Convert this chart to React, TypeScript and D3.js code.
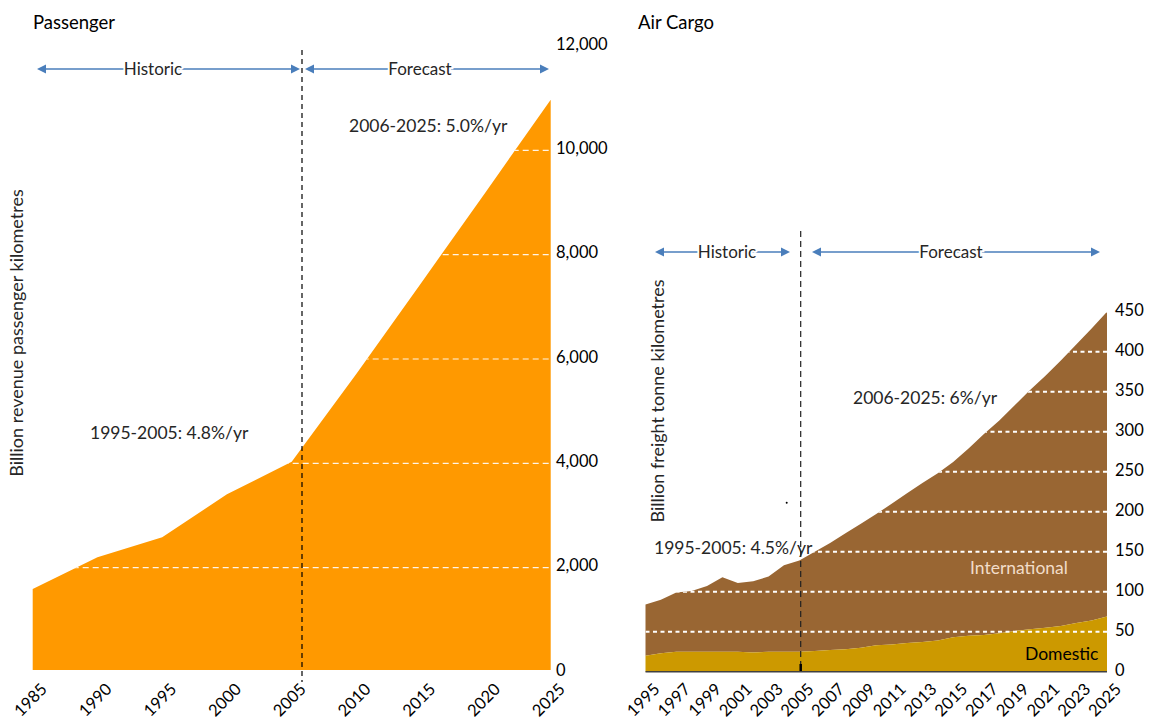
import React from "react";
import * as d3 from "d3";

// ---------- Passenger data ----------
const paxYears = [1985, 1990, 1995, 2000, 2005, 2010, 2015, 2020, 2025];
const paxValues = [1553, 2160, 2544, 3368, 3993, 5680, 7420, 9170, 10930];
const paxTicksY = [0, 2000, 4000, 6000, 8000, 10000, 12000];
const paxTicksX = [1985, 1990, 1995, 2000, 2005, 2010, 2015, 2020, 2025];

// ---------- Cargo data ----------
const cargoYears = [
  1995, 1996, 1997, 1998, 1999, 2000, 2001, 2002, 2003, 2004, 2005, 2006, 2007, 2008, 2009, 2010,
  2011, 2012, 2013, 2014, 2015, 2016, 2017, 2018, 2019, 2020, 2021, 2022, 2023, 2024, 2025,
];
const cargoDomestic = [
  20, 23, 25, 25, 25, 25, 25, 24, 25, 25, 25, 26, 27, 28, 30, 33,
  34, 36, 37, 39, 43, 45, 46, 48, 51, 53, 55, 57, 61, 64, 69,
];
const cargoInternational = [
  64, 67, 74, 76, 82, 93, 86, 89, 94, 108, 114, 124, 134, 145, 155, 164,
  176, 187, 199, 209, 219, 234, 251, 266, 282, 299, 315, 332, 348, 365, 381,
];
const cargoTicksY = [0, 50, 100, 150, 200, 250, 300, 350, 400, 450];
const cargoTicksX = [1995, 1997, 1999, 2001, 2003, 2005, 2007, 2009, 2011, 2013, 2015, 2017, 2019, 2021, 2023, 2025];

const FONT = "Lato, 'Open Sans', sans-serif";
const TXT = "#262626";
const BLUE = "#4A7EBB";

function Arrow({ x1, x2, y, label, lx }: { x1: number; x2: number; y: number; label: string; lx: number }) {
  return (
    <g>
      <line x1={x1 + 6} x2={x2 - 6} y1={y} y2={y} stroke={BLUE} strokeWidth={1.3} />
      <path d={`M${x1},${y} L${x1 + 9},${y - 4.5} L${x1 + 9},${y + 4.5} Z`} fill={BLUE} />
      <path d={`M${x2},${y} L${x2 - 9},${y - 4.5} L${x2 - 9},${y + 4.5} Z`} fill={BLUE} />
      <text x={lx} y={y} dy="0.35em" textAnchor="middle" fontSize={17} fill={TXT} fontFamily={FONT}
        style={{ paintOrder: "stroke" }} stroke="#fff" strokeWidth={4}>
        {label}
      </text>
    </g>
  );
}

export default function App() {
  // Passenger scales
  const px = d3.scaleLinear().domain([1985, 2025]).range([32.7, 550.7]);
  const py = d3.scaleLinear().domain([0, 12000]).range([670, 44]);
  const paxData = paxYears.map((y, i) => ({ year: y, v: paxValues[i] }));
  const paxArea = d3
    .area<{ year: number; v: number }>()
    .x((d) => px(d.year))
    .y0(py(0))
    .y1((d) => py(d.v))(paxData) as string;

  // Cargo scales
  const cx = d3.scaleLinear().domain([1995, 2025]).range([645.5, 1107]);
  const cy = d3.scaleLinear().domain([0, 450]).range([671.7, 311.7]);
  const table = cargoYears.map((y, i) => ({ year: y, domestic: cargoDomestic[i], international: cargoInternational[i] }));
  const stack = d3.stack<any>().keys(["domestic", "international"])(table);
  const areaGen = d3
    .area<any>()
    .x((d) => cx(d.data.year))
    .y0((d) => cy(d[0]))
    .y1((d) => cy(d[1]));
  const domPath = areaGen(stack[0]) as string;
  const intPath = areaGen(stack[1]) as string;
  const totalPath = d3
    .area<any>()
    .x((d) => cx(d.data.year))
    .y0(cy(0))
    .y1((d) => cy(d[1]))(stack[1]) as string;

  return (
    <svg width={1149} height={720} style={{ position: "absolute", left: 0, top: 0, background: "#fff" }} fontFamily={FONT}>
      <defs>
        <clipPath id="paxClip">
          <path d={paxArea} />
        </clipPath>
        <clipPath id="cargoClip">
          <path d={totalPath} />
        </clipPath>
      </defs>

      {/* ---------- Passenger ---------- */}
      <text x={33} y={29} fontSize={18.5} fill="#000">Passenger</text>
      <path d={paxArea} fill="#FF9900" />
      <g clipPath="url(#paxClip)">
        {paxTicksY.filter((t) => t > 0).map((t) => (
          <line key={t} x1={px(1985)} x2={px(2025)} y1={py(t) + 2} y2={py(t) + 2} stroke="#fff" strokeWidth={1.2} strokeDasharray="6,4" opacity={0.9} />
        ))}
      </g>
      {paxTicksY.map((t) => (
        <text key={t} x={556} y={py(t)} dy="0.35em" fontSize={16.5} fill="#000">
          {d3.format(",")(t)}
        </text>
      ))}
      {paxTicksX.map((t) => (
        <text key={t} transform={`translate(${px(t) + 6},${681}) rotate(-45)`} textAnchor="end" dy="0.8em" fontSize={16.5} fill="#000">
          {t}
        </text>
      ))}
      <line x1={302} x2={302} y1={50} y2={682} stroke="#000" strokeWidth={1.2} strokeDasharray="5,4" />
      <text transform="translate(23,333) rotate(-90)" textAnchor="middle" fontSize={18} fill={TXT}>
        Billion revenue passenger kilometres
      </text>
      <Arrow x1={37} x2={300} y={69} label="Historic" lx={153} />
      <Arrow x1={305} x2={549} y={69} label="Forecast" lx={420} />
      <text x={349} y={126} dy="0.35em" fontSize={17.5} fill={TXT}>2006-2025: 5.0%/yr</text>
      <text x={90} y={433} dy="0.35em" fontSize={17.5} fill={TXT}>1995-2005: 4.8%/yr</text>

      {/* ---------- Air Cargo ---------- */}
      <text x={638} y={29} fontSize={18.5} fill="#000">Air Cargo</text>
      <path d={intPath} fill="#996633" />
      <path d={domPath} fill="#CC9900" />
      <g clipPath="url(#cargoClip)">
        {cargoTicksY.filter((t) => t > 0).map((t) => (
          <line key={t} x1={cx(1995)} x2={cx(2025)} y1={cy(t)} y2={cy(t)} stroke="#fff" strokeWidth={2} strokeDasharray="4,3.5" />
        ))}
      </g>
      <line x1={cx(1995)} x2={cx(2025)} y1={cy(0)} y2={cy(0)} stroke="#404040" strokeWidth={1.5} />
      {cargoTicksY.map((t) => (
        <text key={t} x={1115} y={cy(t) - 1} dy="0.35em" fontSize={16.5} fill="#000">
          {t}
        </text>
      ))}
      {cargoTicksX.map((t) => (
        <text key={t} transform={`translate(${cx(t) + 6},${681}) rotate(-45)`} textAnchor="end" dy="0.8em" fontSize={16.5} fill="#000">
          {t}
        </text>
      ))}
      <line x1={800.7} x2={800.7} y1={231} y2={671} stroke="#222" strokeWidth={1.2} strokeDasharray="6,4" />
      <line x1={800.7} x2={800.7} y1={664} y2={671} stroke="#000" strokeWidth={2.5} />
      <circle cx={786.7} cy={502.7} r={1} fill="#000" />
      <text transform="translate(664,401) rotate(-90)" textAnchor="middle" fontSize={18} fill={TXT}>
        Billion freight tonne kilometres
      </text>
      <Arrow x1={655} x2={790} y={252} label="Historic" lx={727} />
      <Arrow x1={812} x2={1100} y={252} label="Forecast" lx={951} />
      <text x={853} y={398} dy="0.35em" fontSize={17.5} fill={TXT}>2006-2025: 6%/yr</text>
      <text x={654} y={548} dy="0.35em" fontSize={17.5} fill={TXT}>1995-2005: 4.5%/yr</text>
      <text x={970} y={568} dy="0.35em" fontSize={17.5} fill="#F2DDC9">International</text>
      <text x={1025} y={654} dy="0.35em" fontSize={17.5} fill="#000">Domestic</text>
    </svg>
  );
}
